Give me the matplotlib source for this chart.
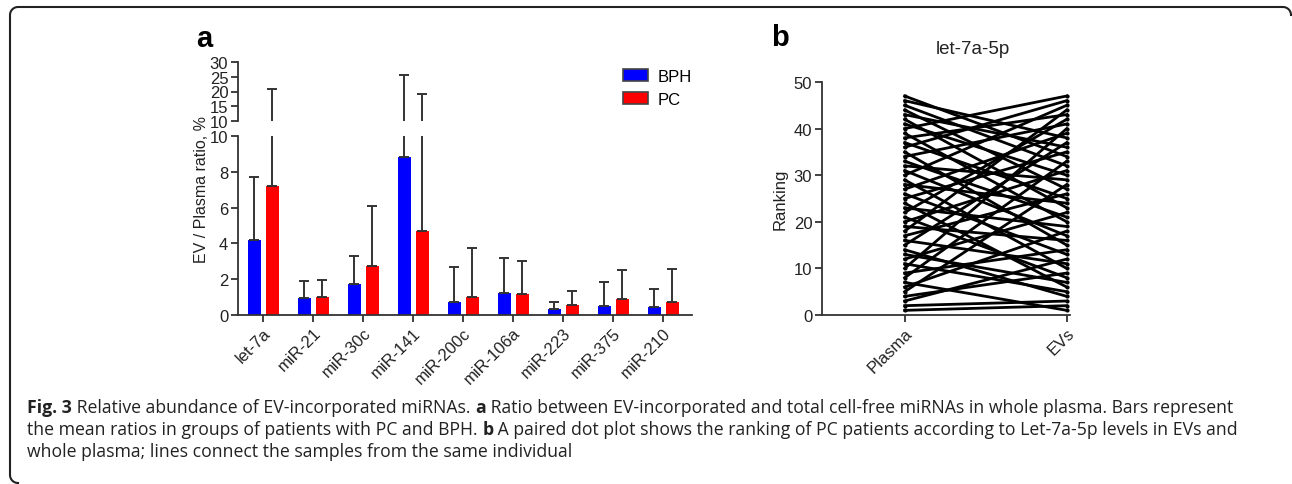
import numpy as np
import matplotlib
matplotlib.use("Agg")
import matplotlib.pyplot as plt
from matplotlib.lines import Line2D

plt.rcParams['font.family'] = ['Liberation Sans', 'DejaVu Sans']

# panel a data
mirnas = ["let-7a", "miR-21", "miR-30c", "miR-141", "miR-200c",
          "miR-106a", "miR-223", "miR-375", "miR-210"]
bph_mean = [4.2, 0.93, 1.75, 8.8, 0.71, 1.23, 0.34, 0.52, 0.47]
bph_top = [7.7, 1.9, 3.32, 25.7, 2.69, 3.21, 0.73, 1.85, 1.44]
pc_mean = [7.2, 0.99, 2.76, 4.7, 0.99, 1.18, 0.58, 0.88, 0.71]
pc_top = [20.8, 1.96, 6.08, 19.3, 3.75, 3.02, 1.32, 2.5, 2.56]

# panel b data: ranking of each patient in plasma and in EVs
plasma_rank = list(range(1, 48))
ev_rank = [2, 3, 12, 9, 28, 18, 1, 33, 14, 40, 5, 22, 7, 4, 37, 11, 26, 44,
           16, 31, 8, 42, 19, 6, 35, 13, 39, 24, 10, 45, 17, 29, 21, 41, 15,
           46, 25, 43, 20, 47, 30, 23, 36, 27, 32, 38, 34]

W, H = 1292, 485
fig = plt.figure(figsize=(W / 100, H / 100), dpi=100)


def box(l, t, r, b):
    return [l / W, 1 - b / H, (r - l) / W, (b - t) / H]


grey = "#333333"
tick_fs = 12

# ---- panel a: broken y axis
ax_lo = fig.add_axes(box(238, 137, 692, 316))
ax_hi = fig.add_axes(box(238, 63, 692, 122))
x = np.arange(len(mirnas))
bw, off = 0.26, 0.18
for ax in (ax_lo, ax_hi):
    ax.bar(x - off, bph_mean, bw, color="#0000ff", label="BPH")
    ax.bar(x + off, pc_mean, bw, color="#ff0000", label="PC")
    for xs, m, t in ((x - off, bph_mean, bph_top), (x + off, pc_mean, pc_top)):
        m, t = np.array(m), np.array(t)
        ax.errorbar(xs, m, yerr=[np.zeros_like(m), t - m], fmt="none",
                    ecolor=grey, elinewidth=1.4, capsize=3.5, capthick=1.4)
    ax.set_xlim(-0.5, 8.58)
    for s in ("top", "right"):
        ax.spines[s].set_visible(False)
    for s in ("left", "bottom"):
        ax.spines[s].set_color(grey)
        ax.spines[s].set_linewidth(1.3)
    ax.tick_params(colors=grey, labelsize=tick_fs, width=1.3, length=5,
                   pad=2, labelcolor="#222222")

ax_lo.set_ylim(0, 10)
ax_lo.set_yticks([0, 2, 4, 6, 8, 10])
ax_lo.set_xticks(x)
ax_lo.set_xticklabels(mirnas, rotation=45, ha="right", rotation_mode="anchor",
                      fontsize=12)
ax_hi.set_ylim(10, 30)
ax_hi.set_yticks([10, 15, 20, 25, 30])
ax_hi.spines["bottom"].set_visible(False)
ax_hi.set_xticks([])
fig.text(202 / W, 1 - 190 / H, "EV / Plasma ratio, %", rotation=90,
         ha="center", va="center", fontsize=11.5, color="#222222")
ax_hi.legend(loc="upper left", bbox_to_anchor=((616 - 238) / 454, 1.0),
             frameon=False, fontsize=12, handlelength=1.5, handleheight=0.75,
             labelspacing=0.5, handletextpad=0.6, borderaxespad=0)
for p in ax_hi.get_legend().get_patches():
    p.set_edgecolor("#444444")
    p.set_linewidth(1.2)

# ---- panel b: paired ranking
ax_b = fig.add_axes(box(822, 83, 1070, 316))
for p, e in zip(plasma_rank, ev_rank):
    ax_b.plot([0, 1], [p, e], color="black", lw=2, marker="o", ms=2,
              clip_on=False)
ax_b.set_xlim(-0.51, 1.02)
ax_b.set_ylim(0, 50)
ax_b.set_yticks([0, 10, 20, 30, 40, 50])
ax_b.set_xticks([0, 1])
ax_b.set_xticklabels(["Plasma", "EVs"], rotation=45, ha="right",
                     rotation_mode="anchor", fontsize=13)
for s in ("top", "right"):
    ax_b.spines[s].set_visible(False)
for s in ("left", "bottom"):
    ax_b.spines[s].set_color(grey)
    ax_b.spines[s].set_linewidth(1.3)
ax_b.tick_params(colors=grey, labelsize=tick_fs, width=1.3, length=5,
                 pad=2, labelcolor="#222222")
ax_b.set_ylabel("Ranking", fontsize=12, color="#222222", labelpad=4)
fig.text(973 / W, 1 - 49 / H, "let-7a-5p", ha="center", va="center",
         fontsize=13.5, color="#222222")

fig.text(196 / W, 1 - 39 / H, "a", fontsize=21, fontweight="bold",
         va="center")
fig.text(771 / W, 1 - 38 / H, "b", fontsize=21, fontweight="bold",
         va="center")

# ---- caption with bold runs, sized so that line 1 fills the reference width
caption = [
    [("Fig. 3", "bold"), (" Relative abundance of EV-incorporated miRNAs. ", "normal"),
     ("a", "bold"), (" Ratio between EV-incorporated and total cell-free miRNAs in whole plasma. Bars represent", "normal")],
    [("the mean ratios in groups of patients with PC and BPH. ", "normal"), ("b", "bold"),
     (" A paired dot plot shows the ranking of PC patients according to Let-7a-5p levels in EVs and", "normal")],
    [("whole plasma; lines connect the samples from the same individual", "normal")],
]
cap_family = ["Open Sans", "DejaVu Sans"]
renderer = fig.canvas.get_renderer()


def line_width(line, fs):
    total = 0
    for txt, wt in line:
        t = fig.text(0, 0, txt, fontsize=fs, fontweight=wt, family=cap_family)
        total += t.get_window_extent(renderer).width
        t.remove()
    return total


cap_fs = 13 * 1198 / line_width(caption[0], 13)
for i, line in enumerate(caption):
    xpos = 27
    ypos = 1 - (408 + 22 * i) / H
    for txt, wt in line:
        t = fig.text(xpos / W, ypos, txt, fontsize=cap_fs, fontweight=wt,
                     family=cap_family, va="center", ha="left", color="#222222")
        xpos += t.get_window_extent(renderer).width

# rounded frame: only top and left sides, the rest is cut off by the picture
r = 8
left, top, right, bot = 10, 8, 1291, 484
a = np.linspace(0, np.pi / 2, 12)
fx = np.concatenate([right - r + r * np.sin(a[::-1]),   # top-right corner
                     left + r - r * np.sin(a),          # top-left corner
                     left + r - r * np.cos(a)])         # bottom-left corner
fy = np.concatenate([top + r - r * np.cos(a[::-1]),
                     top + r - r * np.cos(a),
                     bot - r + r * np.sin(a)])
fig.add_artist(Line2D(fx / W, 1 - fy / H, transform=fig.transFigure,
                      color="#222222", lw=1.5))

fig.savefig("out.png", dpi=100)
